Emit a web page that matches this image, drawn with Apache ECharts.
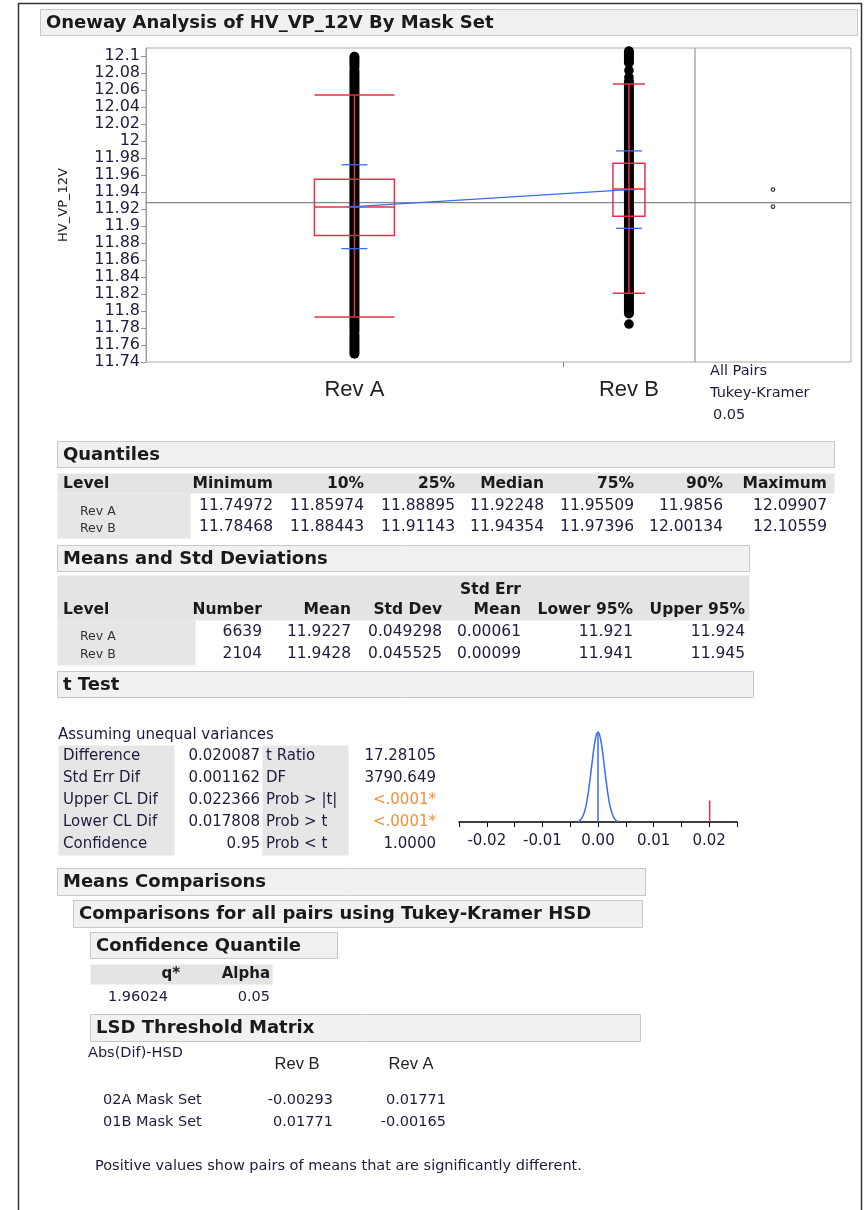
<!DOCTYPE html>
<html>
<head>
<meta charset="utf-8">
<script src="https://cdn.jsdelivr.net/npm/echarts@6/dist/echarts.min.js"></script>
<style>
  html, body { margin: 0; padding: 0; background: #fff; }
  #chart { width: 867px; height: 1210px; }
</style>
</head>
<body>
<div id="chart"></div>
<script>
// --- data ---
var levels = ['Rev A', 'Rev B'];
var counts = [6639, 2104];
var quantileNames = ['Minimum', '10%', '25%', 'Median', '75%', '90%', 'Maximum'];
var quantRevA = [11.74972, 11.85974, 11.88895, 11.92248, 11.95509, 11.9856, 12.09907];
var quantRevB = [11.78468, 11.88443, 11.91143, 11.94354, 11.97396, 12.00134, 12.10559];
var means = [11.9227, 11.9428];
var stdDevs = [0.049298, 0.045525];
var stdErrs = [0.00061, 0.00099];
var lower95 = [11.921, 11.941];
var upper95 = [11.924, 11.945];
var whiskerLow = [11.793, 11.821];
var whiskerHigh = [12.054, 12.067];
var grandMean = 11.9275;
// dense runs of points and lone points, as seen in the plot
var pointRunsA = [[11.74972, 11.772], [11.776, 12.083], [12.087, 12.09907]];
var pointRunsB = [[11.797, 12.070], [12.092, 12.10559]];
var lonePointsA = [];
var lonePointsB = [11.78468, 12.075, 12.083];

var tLabels = ['Difference', 'Std Err Dif', 'Upper CL Dif', 'Lower CL Dif', 'Confidence'];
var tValues = [0.020087, 0.001162, 0.022366, 0.017808, 0.95];
var tStatLabels = ['t Ratio', 'DF', 'Prob > |t|', 'Prob > t', 'Prob < t'];
var tStatValues = ['17.28105', '3790.649', '<.0001*', '<.0001*', '1.0000'];
var tStatSignif = [false, false, true, true, false];
// t density under H0 (relative height)
var diffCurve = [[-0.0036, 0], [-0.003, 0.035], [-0.0025, 0.1], [-0.002, 0.23], [-0.0015, 0.44],
  [-0.001, 0.69], [-0.0005, 0.91], [0, 1], [0.0005, 0.91], [0.001, 0.69], [0.0015, 0.44],
  [0.002, 0.23], [0.0025, 0.1], [0.003, 0.035], [0.0036, 0]];
var diffMarkHeight = 0.24;

var qStar = 1.96024;
var alpha = 0.05;
var lsdCols = ['Rev B', 'Rev A'];
var lsdRows = ['02A Mask Set', '01B Mask Set'];
var lsdValues = [['-0.00293', '0.01771'], ['0.01771', '-0.00165']];

// --- styles ---
var boxWidths = [80, 32];
var red = '#e8304a';
var blue = '#3a6cf0';
var ink = '#1c1c3c';
var FONT = 'DejaVu Sans';

var totalN = counts[0] + counts[1];
var centers = [counts[0] / 2, counts[0] + counts[1] / 2];
var quants = [quantRevA, quantRevB];
var runs = [pointRunsA, pointRunsB];
var lones = [lonePointsA, lonePointsB];

function levelItem(i) {
  var q = quants[i];
  return [centers[i], q[2], q[3], q[4], whiskerLow[i], whiskerHigh[i], means[i], stdDevs[i]];
}

function renderLevel(params, api) {
  var i = params.dataIndex;
  var xc = api.coord([api.value(0), api.value(2)])[0];
  var y = function (v) { return api.coord([api.value(0), v])[1]; };
  var hw = boxWidths[i] / 2;
  var kids = [];
  runs[i].forEach(function (r) {
    kids.push({ type: 'line', shape: { x1: xc, y1: y(r[0]), x2: xc, y2: y(r[1]) },
      style: { stroke: '#000', lineWidth: 10, lineCap: 'round' } });
  });
  lones[i].forEach(function (v) {
    kids.push({ type: 'circle', shape: { cx: xc, cy: y(v), r: 4.8 }, style: { fill: '#000' } });
  });
  var red1 = { stroke: red, lineWidth: 1.5, fill: null };
  kids.push({ type: 'line', shape: { x1: xc, y1: y(api.value(4)), x2: xc, y2: y(api.value(5)) }, style: red1 });
  kids.push({ type: 'line', shape: { x1: xc - hw, y1: y(api.value(4)), x2: xc + hw, y2: y(api.value(4)) }, style: red1 });
  kids.push({ type: 'line', shape: { x1: xc - hw, y1: y(api.value(5)), x2: xc + hw, y2: y(api.value(5)) }, style: red1 });
  var top = y(api.value(3)), bot = y(api.value(1));
  kids.push({ type: 'rect', shape: { x: xc - hw, y: top, width: hw * 2, height: bot - top }, style: red1 });
  kids.push({ type: 'line', shape: { x1: xc - hw, y1: y(api.value(2)), x2: xc + hw, y2: y(api.value(2)) }, style: red1 });
  var m = api.value(6), s = api.value(7);
  var blue1 = { stroke: blue, lineWidth: 1.3 };
  [m - s, m + s].forEach(function (v) {
    kids.push({ type: 'line', shape: { x1: xc - 13, y1: y(v), x2: xc + 13, y2: y(v) }, style: blue1 });
  });
  kids.push({ type: 'line', shape: { x1: xc - 7, y1: y(m), x2: xc + 7, y2: y(m) }, style: blue1 });
  return { type: 'group', children: kids };
}

function renderCircle(params, api) {
  var c = api.coord([api.value(0), api.value(1)]);
  var pxPerUnit = api.size([0, 1])[1];
  var r = Math.max(1.8, qStar * api.value(2) * pxPerUnit);
  return { type: 'circle', shape: { cx: c[0], cy: c[1], r: r },
    style: { fill: null, stroke: '#444', lineWidth: 1.3 } };
}

// --- report graphics (tables and headers) ---
var g = [];
function box(x, y, w, h, fill, stroke) {
  g.push({ type: 'rect', shape: { x: x + 0.5, y: y + 0.5, width: w, height: h },
    style: { fill: fill, stroke: stroke || null, lineWidth: 1 }, z: 1 });
}
function txt(x, y, s, o) {
  o = o || {};
  g.push({ type: 'text', x: x, y: y, z: 5, style: {
    text: s, fontFamily: o.family || FONT, fontSize: o.size || 15, fontWeight: o.bold ? 'bold' : 'normal',
    fill: o.color || ink, align: o.align || 'left', verticalAlign: 'middle' } });
}
function header(x, y, w, h, s) {
  box(x, y, w, h, '#f1f1f1', '#c8c8c8');
  txt(x + 6, y + h / 2 + 1, s, { bold: true, size: 18, color: '#1a1a1a' });
}

g.push({ type: 'rect', shape: { x: 18.5, y: 3.5, width: 843, height: 1212 },
  style: { fill: null, stroke: '#333', lineWidth: 1.5 }, z: 0 });
header(40, 9, 817, 26, 'Oneway Analysis of HV_VP_12V By Mask Set');

txt(710, 371, 'All Pairs', { size: 14.5 });
txt(710, 393, 'Tukey-Kramer', { size: 14.5 });
txt(713, 415, alpha.toFixed(2), { size: 14.5 });

// Quantiles
header(57, 441, 777, 26, 'Quantiles');
box(57, 473, 777, 20, '#e4e4e4');
box(57, 493, 133, 45, '#e6e6e6');
txt(63, 484, 'Level', { bold: true, size: 15.5, color: '#1a1a1a' });
var qRight = [273, 364, 455, 544, 634, 723, 827];
quantileNames.forEach(function (n, k) {
  txt(qRight[k], 484, n, { bold: true, size: 15.5, align: 'right', color: '#1a1a1a' });
  txt(qRight[k], 506, String(quantRevA[k]), { size: 15.5, align: 'right' });
  txt(qRight[k], 527, String(quantRevB[k]), { size: 15.5, align: 'right' });
});
txt(80, 512, levels[0], { size: 12.5, color: '#333' });
txt(80, 529, levels[1], { size: 12.5, color: '#333' });

// Means and Std Deviations
header(57, 545, 692, 26, 'Means and Std Deviations');
box(57, 575, 692, 45, '#e4e4e4');
box(57, 620, 138, 45, '#e6e6e6');
var mRight = [262, 351, 442, 521, 633, 745];
var mNames = ['Number', 'Mean', 'Std Dev', 'Mean', 'Lower 95%', 'Upper 95%'];
txt(63, 610, 'Level', { bold: true, size: 15.5, color: '#1a1a1a' });
txt(521, 590, 'Std Err', { bold: true, size: 15.5, align: 'right', color: '#1a1a1a' });
mNames.forEach(function (n, k) {
  txt(mRight[k], 610, n, { bold: true, size: 15.5, align: 'right', color: '#1a1a1a' });
});
[0, 1].forEach(function (i) {
  var row = [counts[i], means[i], stdDevs[i], stdErrs[i], lower95[i], upper95[i]];
  row.forEach(function (v, k) {
    txt(mRight[k], 632 + i * 22, String(v), { size: 15.5, align: 'right' });
  });
  txt(80, 637 + i * 18, levels[i], { size: 12.5, color: '#333' });
});

// t Test
header(57, 671, 696, 26, 't Test');
txt(58, 735, 'Assuming unequal variances', { size: 15 });
box(58, 745, 116, 110, '#e6e6e6');
box(262, 745, 86, 110, '#e6e6e6');
tLabels.forEach(function (n, k) {
  var yy = 756 + k * 22;
  txt(63, yy, n, { size: 15 });
  txt(260, yy, String(tValues[k]), { size: 15, align: 'right' });
  txt(266, yy, tStatLabels[k], { size: 15 });
  txt(436, yy, tStatValues[k], { size: 15, align: 'right', color: tStatSignif[k] ? '#f0903c' : ink });
});

// Means comparisons
header(57, 868, 588, 27, 'Means Comparisons');
header(73, 900, 569, 27, 'Comparisons for all pairs using Tukey-Kramer HSD');
header(90, 932, 247, 26, 'Confidence Quantile');
box(90, 964, 182, 20, '#e4e4e4');
txt(180, 974, 'q*', { bold: true, size: 15, align: 'right', color: '#1a1a1a' });
txt(270, 974, 'Alpha', { bold: true, size: 15, align: 'right', color: '#1a1a1a' });
txt(168, 997, String(qStar), { size: 14.5, align: 'right' });
txt(270, 997, String(alpha), { size: 14.5, align: 'right' });

header(90, 1014, 550, 27, 'LSD Threshold Matrix');
txt(88, 1053, 'Abs(Dif)-HSD', { size: 14.5 });
txt(297, 1064, lsdCols[0], { size: 16.5, align: 'center', family: 'Liberation Sans', color: '#222' });
txt(411, 1064, lsdCols[1], { size: 16.5, align: 'center', family: 'Liberation Sans', color: '#222' });
lsdRows.forEach(function (n, r) {
  var yy = 1100 + r * 22;
  txt(103, yy, n, { size: 14.5 });
  txt(333, yy, lsdValues[r][0], { size: 14.5, align: 'right' });
  txt(446, yy, lsdValues[r][1], { size: 14.5, align: 'right' });
});
txt(95, 1166, 'Positive values show pairs of means that are significantly different.', { size: 14.5 });

var Y_MIN = 11.74, Y_MAX = 12.1094;

var chart = echarts.init(document.getElementById('chart'), null, { renderer: 'canvas' });
chart.setOption({
  animation: false,
  backgroundColor: '#fff',
  textStyle: { fontFamily: FONT },
  grid: [
    { left: 146, top: 48, width: 549, height: 314, show: true, borderColor: '#aaa', borderWidth: 1, backgroundColor: 'transparent' },
    { left: 695, top: 48, width: 156, height: 314, show: true, borderColor: '#aaa', borderWidth: 1, backgroundColor: 'transparent' },
    { left: 459, top: 723, width: 278, height: 99 }
  ],
  xAxis: [
    { gridIndex: 0, type: 'value', min: 0, max: totalN,
      axisLine: { show: false }, splitLine: { show: false },
      axisTick: { show: true, customValues: [counts[0]], length: 5, lineStyle: { color: '#888' } },
      axisLabel: { customValues: centers, margin: 17, fontSize: 22, fontFamily: 'Liberation Sans', color: '#222',
        formatter: function (v) { var k = centers.indexOf(v); return k >= 0 ? levels[k] : ''; } } },
    { gridIndex: 1, type: 'value', min: 0, max: 1, show: false },
    { gridIndex: 2, type: 'value', min: -0.025, max: 0.025, interval: 0.005,
      axisLine: { show: true, onZero: false, lineStyle: { color: '#000', width: 1.5 } },
      axisTick: { show: true, length: 5, lineStyle: { color: '#000' } },
      splitLine: { show: false },
      axisLabel: { margin: 12, fontSize: 15, color: ink, showMinLabel: true, showMaxLabel: true,
        formatter: function (v) {
          var h = v * 100;
          return Math.abs(h - Math.round(h)) < 1e-6 ? (Math.round(h) / 100).toFixed(2) : '';
        } } }
  ],
  yAxis: [
    { gridIndex: 0, type: 'value', min: Y_MIN, max: Y_MAX, interval: 0.02,
      name: 'HV_VP_12V', nameLocation: 'middle', nameGap: 76, nameRotate: 90,
      nameTextStyle: { fontSize: 13, color: '#222' },
      axisLine: { show: true, lineStyle: { color: '#999' } },
      axisTick: { show: true, length: 5, lineStyle: { color: '#999' } },
      splitLine: { show: false },
      axisLabel: { fontSize: 16, color: ink, margin: 6, showMaxLabel: false,
        formatter: function (v) { return String(+v.toFixed(2)); } } },
    { gridIndex: 1, type: 'value', min: Y_MIN, max: Y_MAX, show: false },
    { gridIndex: 2, type: 'value', min: 0, max: 1.1, show: false }
  ],
  series: [
    { type: 'line', xAxisIndex: 0, yAxisIndex: 0, symbol: 'none', silent: true,
      lineStyle: { color: '#888', width: 1.2 }, data: [[0, grandMean], [totalN, grandMean]], z: 1 },
    { type: 'line', xAxisIndex: 1, yAxisIndex: 1, symbol: 'none', silent: true,
      lineStyle: { color: '#888', width: 1.2 }, data: [[0, grandMean], [1, grandMean]], z: 1 },
    { type: 'custom', xAxisIndex: 0, yAxisIndex: 0, renderItem: renderLevel,
      data: [levelItem(0), levelItem(1)], z: 3 },
    { type: 'line', xAxisIndex: 0, yAxisIndex: 0, symbol: 'none', silent: true,
      lineStyle: { color: blue, width: 1.2 }, data: [[centers[0], means[0]], [centers[1], means[1]]], z: 4 },
    { type: 'custom', xAxisIndex: 1, yAxisIndex: 1, renderItem: renderCircle,
      data: [[0.5, means[0], stdErrs[0]], [0.5, means[1], stdErrs[1]]], z: 4 },
    { type: 'line', xAxisIndex: 2, yAxisIndex: 2, symbol: 'none', smooth: true, silent: true,
      lineStyle: { color: blue, width: 1.5 }, data: diffCurve },
    { type: 'line', xAxisIndex: 2, yAxisIndex: 2, symbol: 'none', silent: true,
      lineStyle: { color: blue, width: 1.5 }, data: [[0, 0], [0, 1]] },
    { type: 'line', xAxisIndex: 2, yAxisIndex: 2, symbol: 'none', silent: true,
      lineStyle: { color: red, width: 1.5 }, data: [[tValues[0], 0], [tValues[0], diffMarkHeight]] }
  ],
  graphic: g
});
</script>
</body>
</html>
